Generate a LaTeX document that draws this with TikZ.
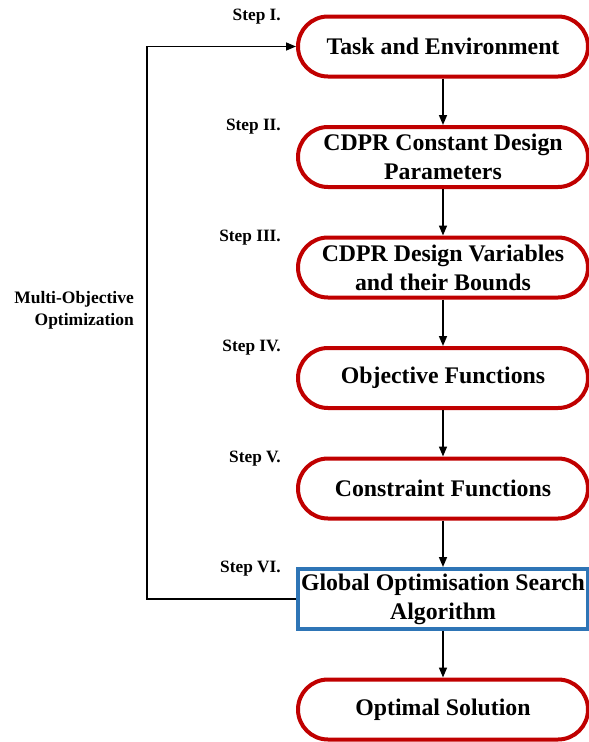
\documentclass[tikz,border=0pt]{standalone}
\usepackage{fontspec}
\setmainfont{Liberation Serif}
\usetikzlibrary{positioning, arrows.meta}

\definecolor{boxred}{RGB}{192,0,0}
\definecolor{boxblue}{RGB}{46,117,182}

\tikzset{
    stage/.style={draw=boxred, line width=4pt, rounded corners=30pt,
        minimum width=290pt, minimum height=60pt, align=center,
        font=\bfseries\fontsize{23.8}{29}\selectfont, inner sep=2pt},
    searchbox/.style={draw=boxblue, line width=4pt,
        minimum width=290pt, minimum height=60pt, align=center,
        font=\bfseries\fontsize{23.8}{29}\selectfont, inner sep=2pt},
    steplabel/.style={font=\bfseries\fontsize{17.3}{20}\selectfont, inner sep=0pt,
        yshift=-2pt},
    flow/.style={line width=1.5pt, -{Triangle[length=10pt, width=8pt]}}
}

\begin{document}
\begin{tikzpicture}[x=1pt, y=-1pt, node distance=46.5pt]

    \useasboundingbox (0,0) rectangle (589,742);

    % Nodes
    \node[stage] (task) at (443, 46.5) {Task and Environment};
    \node[stage, below=of task] (param) {CDPR Constant Design\\Parameters};
    \node[stage, below=of param] (vars) {CDPR Design Variables\\and their Bounds};
    \node[stage, below=of vars] (obj) {Objective Functions};
    \node[stage, below=of obj] (cons) {Constraint Functions};
    \node[searchbox, below=of cons] (search) {Global Optimisation Search\\Algorithm};
    \node[stage, below=of search] (sol) {Optimal Solution};

    % Step labels
    \node[steplabel, left=15pt of task.north west] {Step I.};
    \node[steplabel, left=15pt of param.north west] {Step II.};
    \node[steplabel, left=15pt of vars.north west] {Step III.};
    \node[steplabel, left=15pt of obj.north west] {Step IV.};
    \node[steplabel, left=15pt of cons.north west] {Step V.};
    \node[steplabel, left=15pt of search.north west] {Step VI.};

    \node[align=right, anchor=east, inner sep=0pt,
        font=\bfseries\fontsize{17.5}{22}\selectfont] (moo) at (134, 310)
        {Multi-Objective\\Optimization};

    % Lines
    \draw[flow] (task) -- (param);
    \draw[flow] (param) -- (vars);
    \draw[flow] (vars) -- (obj);
    \draw[flow] (obj) -- (cons);
    \draw[flow] (cons) -- (search);
    \draw[flow] (search) -- (sol);
    \draw[flow] (search.west) -- ++(-149, 0) |- (task.west);

\end{tikzpicture}
\end{document}
